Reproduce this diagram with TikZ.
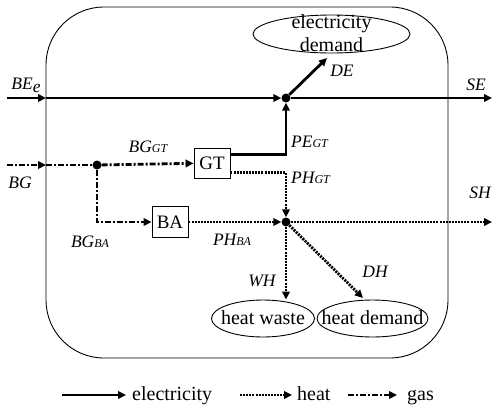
\documentclass[tikz,border=0pt]{standalone}
\usepackage{fontspec}
\setmainfont{Liberation Serif}
\usetikzlibrary{arrows.meta,shapes.geometric,calc}
\newcommand\sub[1]{{\fontsize{12}{12}\selectfont #1}}
\tikzset{
  tip/.style={-{Triangle[length=8pt,width=7.5pt]}},
  elec/.style={line width=2.8pt},
  heat/.style={line width=2.8pt, dash pattern=on 2pt off 1.1pt},
  gas/.style={line width=2.8pt, dash pattern=on 6pt off 2pt on 2pt off 2pt},
  unitbox/.style={draw, line width=0.9pt, minimum width=36pt, minimum height=30pt, inner sep=0pt, font=\fontsize{19}{20}\selectfont},
  demand/.style={draw, ellipse, line width=0.9pt, inner sep=0pt},
  txt/.style={inner sep=0pt, font=\fontsize{20}{23}\selectfont, align=center},
  dot/.style={circle, fill, inner sep=0pt, minimum size=9pt},
  lbl/.style={font=\fontsize{17.5}{19}\selectfont\itshape, inner sep=0pt},
}
\begin{document}
\begin{tikzpicture}[x=1pt,y=-1pt]
\useasboundingbox (0,0) rectangle (493,408);
% system boundary
\draw[line width=0.9pt, rounded corners=58pt] (46,7) rectangle (448,358);

% nodes
\node[dot] (J1) at (286,98) {};
\node[dot] (J2) at (286,222) {};
\node[dot] (J0) at (97,165) {};
\node[unitbox] (GT) at (212,163) {GT};
\node[unitbox, minimum height=31pt] (BA) at (170,222) {BA};
\node[demand, minimum width=157pt, minimum height=38pt] (ED) at (331.5,34) {};
\node[txt] (EDt) at (331.5,33.5) {electricity\\demand};
\node[demand, minimum width=103pt, minimum height=37pt] (HW) at (263,318.5) {};
\node[txt] (HWt) at (263,318) {heat waste};
\node[demand, minimum width=111pt, minimum height=37pt] (HD) at (372.5,318.5) {};
\node[txt] (HDt) at (372.5,318) {heat demand};

% coordinates
\coordinate (inE) at (7,98);
\coordinate (bE) at (46,98);
\coordinate (seEnd) at (492,98);
\coordinate (deEnd) at (327,58);
\coordinate (inG) at (7,165);
\coordinate (bG) at (46,165);
\coordinate (shEnd) at (492,222);
\coordinate (dhEnd) at (363,298);
\coordinate (gtE1) at ($(GT.north east)!0.23!(GT.south east)$);
\coordinate (gtE2) at ($(GT.north east)!0.8!(GT.south east)$);

% electricity
\draw[elec,tip] (inE) -- (bE);
\draw[elec,tip] (bE) -- (J1);
\draw[elec,tip] (J1) -- (seEnd);
\draw[elec,tip] (J1) -- (deEnd);
\draw[elec,tip] (gtE1) -| (J1);
% gas
\draw[gas,tip] (inG) -- (bG);
\draw[gas] (bG) -- (J0);
\draw[gas,tip] (J0) -- (GT);
\draw[gas,tip] (J0) |- (BA);
% heat
\draw[heat,tip] (gtE2) -| (J2);
\draw[heat,tip] (BA) -- (J2);
\draw[heat,tip] (J2) -- (shEnd);
\draw[heat,tip] (J2) -- (HW.north -| J2);
\draw[heat,tip] (J2) -- (dhEnd);

% labels
\node[lbl] (lBE) at (26,85) {BE\raisebox{-3pt}{e}};
\node[lbl] (lBG) at (20,183) {BG};
\node[lbl] (lBGGT) at (148,147) {BG\sub{GT}};
\node[lbl] (lBGBA) at (90,242) {BG\sub{BA}};
\node[lbl, anchor=west] (lPEGT) at (291,142) {PE\sub{GT}};
\node[lbl, anchor=west] (lPHGT) at (291,178) {PH\sub{GT}};
\node[lbl] (lPHBA) at (232,240) {PH\sub{BA}};
\node[lbl] (lWH) at (262,281) {WH};
\node[lbl] (lDH) at (375,272) {DH};
\node[lbl] (lDE) at (342,71) {DE};
\node[lbl] (lSE) at (476,85) {SE};
\node[lbl] (lSH) at (480,193) {SH};

% legend
\coordinate (le1) at (62,395);
\coordinate (le2) at (126,395);
\coordinate (lh1) at (240,395);
\coordinate (lh2) at (292,395);
\coordinate (lg1) at (348,395);
\coordinate (lg2) at (397,395);
\draw[elec,tip] (le1) -- (le2);
\draw[heat,tip] (lh1) -- (lh2);
\draw[gas,tip] (lg1) -- (lg2);
\node[txt, anchor=base west] (tE) at (132,400) {electricity};
\node[txt, anchor=base west] (tH) at (297,400) {heat};
\node[txt, anchor=base west] (tG) at (407,400) {gas};
\end{tikzpicture}
\end{document}
